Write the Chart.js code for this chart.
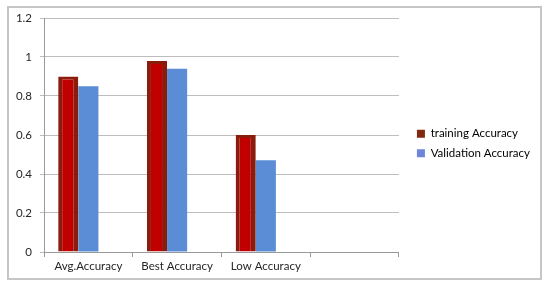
<!DOCTYPE html>
<html><head><meta charset="utf-8">
<script src="https://cdn.jsdelivr.net/npm/chart.js@4"></script>
<style>html,body{margin:0;padding:0;background:#fff}#w{width:550px;height:287px}</style>
</head><body><div id="w"><canvas id="c" width="550" height="287"></canvas></div>
<script>
const categories = ["Avg.Accuracy", "Best Accuracy", "Low Accuracy", ""];
const trainingAccuracy = [0.9, 0.98, 0.6, null];
const validationAccuracy = [0.85, 0.94, 0.47, null];
const emptySeries = [null, null, null, null];
const yTicks = [0, 0.2, 0.4, 0.6, 0.8, 1, 1.2];

const framePlugin = {
  id: 'frame',
  beforeLayout(chart) {
    const lg = chart.legend;
    if (lg && !lg._wrapped) {
      const f = lg.fit.bind(lg);
      lg.fit = function () { f(); this.width += 20; };
      const d = lg.draw.bind(lg);
      lg.draw = function () {
        const ctx = this.ctx;
        ctx.save(); ctx.translate(10, -2); d(); ctx.restore();
      };
      lg._wrapped = true;
    }
  },
  beforeDraw(chart) {
    const ctx = chart.ctx;
    ctx.save();
    ctx.strokeStyle = '#c6c6c6';
    ctx.lineWidth = 2;
    ctx.strokeRect(8, 7, 533, 272);
    ctx.restore();
  }
};

new Chart(document.getElementById('c'), {
  type: 'bar',
  data: {
    labels: categories,
    datasets: [
      { label: 'training Accuracy', data: trainingAccuracy, backgroundColor: '#c00000', borderColor: '#8a1c0c', borderWidth: {left:4,right:5,top:3,bottom:0}, borderSkipped: 'bottom', inflateAmount: 0 },
      { label: 'Validation Accuracy', data: validationAccuracy, backgroundColor: '#5b8dd6', borderColor: '#5b8dd6', borderWidth: 0 },
      { label: '', data: emptySeries, backgroundColor: '#9bbb59', borderWidth: 0 }
    ]
  },
  options: {
    responsive: false,
    animation: false,
    devicePixelRatio: 1,
    layout: { padding: { left: 10, top: 18, bottom: 14, right: 0 } },
    datasets: { bar: { barPercentage: 1, categoryPercentage: 0.68 } },
    plugins: {
      tooltip: { enabled: false },
      legend: {
        position: 'right',
        labels: {
          font: { family: 'Lato', size: 11.5 },
          color: '#262626',
          boxWidth: 8, boxHeight: 8, padding: 8,
          generateLabels(chart) {
            return [
              { text: 'training Accuracy', fillStyle: '#7f2a10', strokeStyle: '#7f2a10', lineWidth: 0, datasetIndex: 0 },
              { text: 'Validation Accuracy', fillStyle: '#6d86d8', strokeStyle: '#6d86d8', lineWidth: 0, datasetIndex: 1 }
            ];
          }
        }
      }
    },
    scales: {
      x: {
        grid: { display: true, drawOnChartArea: false, offset: true, color: '#999', tickLength: 5 },
        border: { color: '#999' },
        ticks: { font: { family: 'Lato', size: 11.5 }, color: '#262626', padding: 2 },
        afterFit(s) { s.height = 21; }
      },
      y: {
        min: 0, max: 1.2,
        afterBuildTicks(s) { s.ticks = yTicks.map(v => ({ value: v })); },
        grid: { color: '#bdbdbd', tickLength: 4 },
        border: { color: '#999' },
        ticks: { font: { family: 'Lato', size: 11.5 }, color: '#262626', padding: 8, callback: v => String(v) },
        afterFit(s) { s.width = 34; }
      }
    }
  },
  plugins: [framePlugin]
});
</script>
</body></html>
